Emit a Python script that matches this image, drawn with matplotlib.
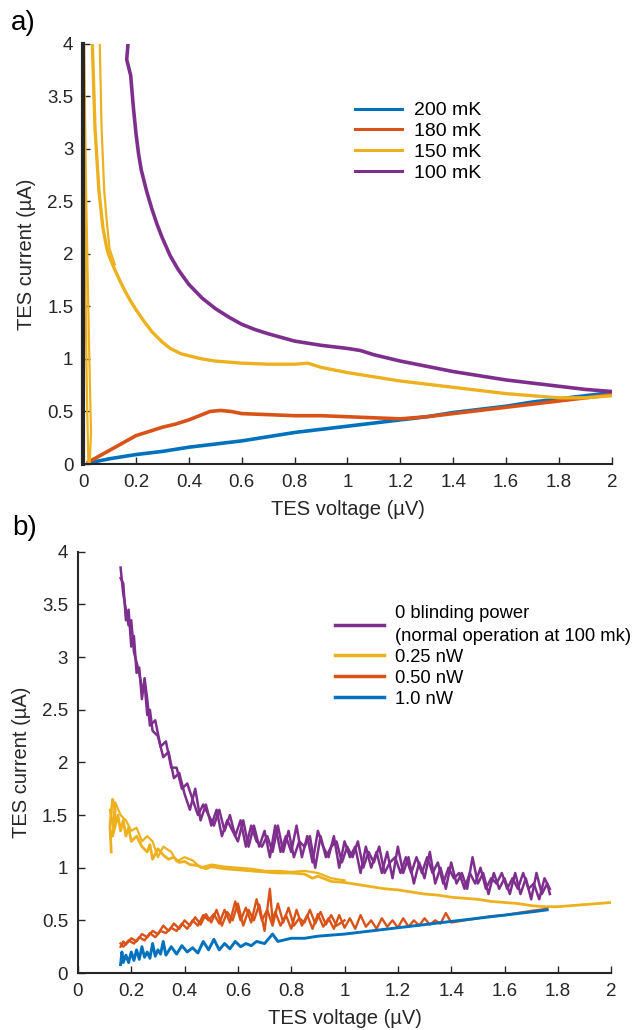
import numpy as np
import matplotlib.pyplot as plt

# MATLAB default colours
BLUE, ORANGE, YELLOW, PURPLE = "#0072BD", "#D95319", "#EDB120", "#7E2F8E"

# ---- panel a: IV curves at several bath temperatures (V in uV, I in uA)
a_200mK = [(0.02, 0.01), (0.1, 0.05), (0.2, 0.09), (0.3, 0.12), (0.4, 0.16), (0.5, 0.19),
           (0.6, 0.22), (0.7, 0.26), (0.8, 0.30), (0.9, 0.33), (1.0, 0.36), (1.1, 0.39),
           (1.2, 0.42), (1.3, 0.45), (1.4, 0.49), (1.5, 0.52), (1.6, 0.55), (1.7, 0.59),
           (1.8, 0.62), (1.9, 0.65), (2.0, 0.68)]
a_180mK = [(0.02, 0.02), (0.05, 0.06), (0.1, 0.13), (0.15, 0.2), (0.2, 0.27), (0.25, 0.31),
           (0.3, 0.35), (0.35, 0.38), (0.4, 0.42), (0.45, 0.47), (0.48, 0.5), (0.52, 0.51),
           (0.56, 0.5), (0.6, 0.48), (0.7, 0.47), (0.8, 0.46), (0.9, 0.46), (1.0, 0.45),
           (1.1, 0.44), (1.2, 0.43), (1.3, 0.45), (1.4, 0.48), (1.5, 0.51), (1.6, 0.54),
           (1.7, 0.57), (1.8, 0.60), (1.9, 0.63), (2.0, 0.66)]
a_150mK = [(0.035, 4.0), (0.045, 3.2), (0.06, 2.6), (0.075, 2.25), (0.09, 2.05), (0.1, 1.97),
           (0.12, 1.85), (0.14, 1.74), (0.16, 1.64), (0.18, 1.55), (0.2, 1.47), (0.23, 1.36),
           (0.26, 1.26), (0.3, 1.16), (0.33, 1.1), (0.37, 1.05), (0.4, 1.03), (0.45, 1.0),
           (0.5, 0.98), (0.6, 0.96), (0.7, 0.95), (0.8, 0.95), (0.85, 0.96), (0.9, 0.92),
           (1.0, 0.87), (1.1, 0.83), (1.2, 0.79), (1.3, 0.76), (1.4, 0.73), (1.5, 0.70),
           (1.6, 0.67), (1.7, 0.65), (1.8, 0.63), (1.9, 0.63), (2.0, 0.65)]
a_150mK_sweep2 = [(0.063, 4.0), (0.07, 3.2), (0.08, 2.6), (0.09, 2.3), (0.1, 2.05), (0.12, 1.9)]
a_150mK_sc = [(0.002, 4.0), (0.004, 3.0), (0.006, 2.4), (0.01, 1.5), (0.015, 0.6), (0.02, 0.0),
              (0.025, 0.0), (0.03, 0.3), (0.022, 1.2), (0.012, 2.5), (0.006, 3.6), (0.004, 4.0)]
a_100mK = [(0.17, 4.0), (0.165, 3.85), (0.18, 3.7), (0.19, 3.4), (0.2, 3.15), (0.21, 2.95),
           (0.22, 2.8), (0.24, 2.6), (0.26, 2.43), (0.28, 2.28), (0.3, 2.15), (0.33, 1.98),
           (0.36, 1.85), (0.4, 1.71), (0.45, 1.58), (0.5, 1.48), (0.55, 1.4), (0.6, 1.33),
           (0.65, 1.28), (0.7, 1.24), (0.8, 1.17), (0.9, 1.13), (1.0, 1.1), (1.05, 1.08),
           (1.1, 1.04), (1.2, 0.98), (1.3, 0.93), (1.4, 0.88), (1.5, 0.84), (1.6, 0.80),
           (1.7, 0.77), (1.8, 0.74), (1.9, 0.71), (2.0, 0.69)]

# ---- panel b: IV curves under blinding power
b_0nW = [(0.16, 3.85), (0.17, 3.6), (0.18, 3.45), (0.19, 3.3), (0.20, 3.35), (0.21, 3.05),
         (0.22, 2.95), (0.23, 2.85), (0.24, 2.7), (0.25, 2.75), (0.26, 2.45), (0.27, 2.5),
         (0.28, 2.3), (0.30, 2.25), (0.32, 2.05), (0.34, 2.1), (0.36, 1.85), (0.38, 1.9),
         (0.40, 1.7), (0.42, 1.55), (0.44, 1.75), (0.46, 1.45), (0.48, 1.6), (0.50, 1.4),
         (0.52, 1.55), (0.54, 1.3), (0.56, 1.45), (0.58, 1.35), (0.60, 1.25), (0.62, 1.45),
         (0.64, 1.2), (0.66, 1.4), (0.68, 1.2), (0.70, 1.35), (0.72, 1.1), (0.74, 1.4),
         (0.76, 1.15), (0.78, 1.3), (0.80, 1.15), (0.82, 1.4), (0.84, 1.1), (0.86, 1.3),
         (0.88, 1.05), (0.90, 1.35), (0.92, 1.2), (0.94, 1.1), (0.96, 1.3), (0.98, 1.0),
         (1.00, 1.25), (1.02, 1.1), (1.04, 1.2), (1.06, 0.95), (1.08, 1.2), (1.10, 1.0),
         (1.12, 1.15), (1.14, 0.95), (1.16, 1.15), (1.18, 0.9), (1.20, 1.2), (1.22, 0.95),
         (1.24, 1.1), (1.26, 0.85), (1.28, 1.05), (1.30, 0.9), (1.32, 1.15), (1.34, 0.85),
         (1.36, 1.0), (1.38, 0.8), (1.40, 1.05), (1.42, 0.85), (1.44, 0.95), (1.46, 0.8),
         (1.48, 1.1), (1.50, 0.85), (1.52, 0.95), (1.54, 0.75), (1.56, 0.95), (1.58, 0.8),
         (1.60, 0.9), (1.62, 0.75), (1.64, 0.95), (1.66, 0.75), (1.68, 0.9), (1.70, 0.7),
         (1.72, 0.95), (1.74, 0.75), (1.76, 0.85), (1.77, 0.75)]
b_0nW_back = [(1.77, 0.8), (1.75, 0.9), (1.73, 0.7), (1.71, 0.85), (1.69, 0.8), (1.67, 0.95),
              (1.65, 0.8), (1.63, 0.9), (1.61, 0.8), (1.59, 0.95), (1.57, 0.85), (1.55, 0.9),
              (1.53, 0.8), (1.51, 1.0), (1.49, 0.85), (1.47, 0.95), (1.45, 0.8), (1.43, 0.95),
              (1.41, 0.9), (1.39, 1.0), (1.37, 0.85), (1.35, 1.05), (1.33, 0.95), (1.31, 1.1),
              (1.29, 0.95), (1.27, 1.1), (1.25, 0.95), (1.23, 1.1), (1.21, 0.95), (1.19, 1.1),
              (1.17, 1.05), (1.15, 0.95), (1.13, 1.2), (1.11, 1.05), (1.09, 1.15), (1.07, 1.0),
              (1.05, 1.25), (1.03, 1.1), (1.01, 1.2), (0.99, 1.05), (0.97, 1.25), (0.95, 1.2),
              (0.93, 1.1), (0.91, 1.3), (0.89, 1.0), (0.87, 1.3), (0.85, 1.2), (0.83, 1.25),
              (0.81, 1.1), (0.79, 1.35), (0.77, 1.15), (0.75, 1.4), (0.73, 1.15), (0.71, 1.3),
              (0.69, 1.2), (0.67, 1.25), (0.65, 1.4), (0.63, 1.2), (0.61, 1.45), (0.59, 1.3),
              (0.57, 1.5), (0.55, 1.35), (0.53, 1.55), (0.51, 1.4), (0.49, 1.5), (0.47, 1.6),
              (0.45, 1.5), (0.43, 1.65), (0.41, 1.8), (0.39, 1.75), (0.37, 1.95), (0.35, 1.95),
              (0.33, 2.2), (0.31, 2.15), (0.29, 2.4), (0.27, 2.35), (0.26, 2.6), (0.25, 2.8),
              (0.24, 2.6), (0.23, 2.9), (0.22, 2.85), (0.21, 3.2), (0.20, 3.1), (0.19, 3.45),
              (0.18, 3.35), (0.17, 3.7), (0.16, 3.75)]
b_025nW = [(0.125, 1.15), (0.12, 1.4), (0.13, 1.65), (0.14, 1.55), (0.13, 1.3), (0.15, 1.5),
           (0.16, 1.35), (0.17, 1.45), (0.18, 1.3), (0.19, 1.38), (0.2, 1.25), (0.22, 1.3),
           (0.24, 1.2), (0.26, 1.15), (0.27, 1.22), (0.28, 1.08), (0.3, 1.18), (0.32, 1.12),
           (0.34, 1.08), (0.36, 1.1), (0.38, 1.05), (0.4, 1.06), (0.42, 1.03), (0.45, 1.02),
           (0.48, 0.99), (0.5, 1.01), (0.55, 0.99), (0.6, 0.98), (0.65, 0.97), (0.7, 0.96),
           (0.75, 0.95), (0.8, 0.95), (0.85, 0.94), (0.88, 0.9), (0.9, 0.92), (0.95, 0.87),
           (1.0, 0.86), (1.05, 0.84), (1.1, 0.82), (1.15, 0.8), (1.2, 0.79), (1.25, 0.77),
           (1.3, 0.75), (1.35, 0.74), (1.4, 0.72), (1.45, 0.71), (1.5, 0.70), (1.55, 0.68),
           (1.6, 0.67), (1.65, 0.66), (1.7, 0.64), (1.75, 0.63), (1.8, 0.63), (1.85, 0.64),
           (1.9, 0.65), (1.95, 0.66), (2.0, 0.67)]
b_025nW_back = [(1.0, 0.88), (0.95, 0.9), (0.9, 0.95), (0.85, 0.97), (0.8, 0.96), (0.75, 0.97),
                (0.7, 0.97), (0.65, 0.99), (0.6, 1.0), (0.55, 1.01), (0.5, 1.03), (0.46, 1.0),
                (0.43, 1.07), (0.4, 1.1), (0.37, 1.06), (0.35, 1.15), (0.32, 1.2), (0.3, 1.1),
                (0.28, 1.25), (0.26, 1.3), (0.24, 1.25), (0.22, 1.38), (0.2, 1.35), (0.18, 1.45),
                (0.16, 1.5), (0.14, 1.62), (0.13, 1.4), (0.12, 1.55)]
b_050nW = [(0.16, 0.25), (0.17, 0.3), (0.18, 0.27), (0.2, 0.33), (0.22, 0.3), (0.24, 0.37),
           (0.26, 0.34), (0.28, 0.4), (0.3, 0.37), (0.32, 0.45), (0.34, 0.4), (0.36, 0.47),
           (0.38, 0.42), (0.4, 0.5), (0.42, 0.45), (0.44, 0.53), (0.46, 0.46), (0.48, 0.56),
           (0.5, 0.48), (0.52, 0.6), (0.54, 0.45), (0.56, 0.58), (0.58, 0.5), (0.6, 0.66),
           (0.62, 0.45), (0.64, 0.6), (0.66, 0.5), (0.68, 0.65), (0.7, 0.4), (0.72, 0.8),
           (0.73, 0.5), (0.74, 0.58), (0.76, 0.45), (0.78, 0.55), (0.8, 0.42), (0.82, 0.6),
           (0.84, 0.45), (0.86, 0.55), (0.88, 0.42), (0.9, 0.56), (0.92, 0.44), (0.94, 0.52),
           (0.96, 0.42), (0.98, 0.55), (1.0, 0.43), (1.02, 0.52), (1.04, 0.42), (1.06, 0.55),
           (1.08, 0.44), (1.1, 0.5), (1.12, 0.42), (1.14, 0.52), (1.16, 0.44), (1.18, 0.5),
           (1.2, 0.43), (1.22, 0.52), (1.24, 0.44), (1.26, 0.5), (1.28, 0.45), (1.3, 0.52),
           (1.32, 0.46), (1.34, 0.5), (1.36, 0.47), (1.38, 0.57), (1.4, 0.48), (1.45, 0.5),
           (1.5, 0.52), (1.55, 0.54), (1.6, 0.55), (1.65, 0.57), (1.7, 0.59), (1.76, 0.61)]
b_050nW_back = [(1.0, 0.5), (0.97, 0.45), (0.95, 0.55), (0.93, 0.46), (0.91, 0.58), (0.89, 0.47),
                (0.87, 0.6), (0.85, 0.48), (0.83, 0.52), (0.81, 0.45), (0.79, 0.62), (0.77, 0.48),
                (0.75, 0.66), (0.73, 0.45), (0.71, 0.6), (0.69, 0.5), (0.67, 0.7), (0.65, 0.48),
                (0.63, 0.62), (0.61, 0.5), (0.59, 0.68), (0.57, 0.48), (0.55, 0.6), (0.53, 0.47),
                (0.51, 0.56), (0.49, 0.5), (0.47, 0.55), (0.45, 0.45), (0.43, 0.5), (0.41, 0.42),
                (0.39, 0.47), (0.37, 0.4), (0.35, 0.43), (0.33, 0.38), (0.31, 0.4), (0.29, 0.34),
                (0.27, 0.38), (0.25, 0.31), (0.23, 0.34), (0.21, 0.28), (0.19, 0.31), (0.17, 0.25),
                (0.16, 0.28)]
b_1nW = [(0.16, 0.08), (0.165, 0.2), (0.17, 0.1), (0.18, 0.17), (0.19, 0.1), (0.2, 0.2),
         (0.21, 0.12), (0.22, 0.22), (0.23, 0.13), (0.24, 0.25), (0.25, 0.15), (0.26, 0.2),
         (0.27, 0.14), (0.28, 0.28), (0.29, 0.16), (0.3, 0.22), (0.31, 0.18), (0.32, 0.3),
         (0.33, 0.17), (0.35, 0.25), (0.37, 0.18), (0.39, 0.26), (0.41, 0.2), (0.43, 0.24),
         (0.45, 0.19), (0.47, 0.3), (0.49, 0.22), (0.51, 0.32), (0.53, 0.22), (0.55, 0.28),
         (0.57, 0.23), (0.59, 0.3), (0.61, 0.25), (0.63, 0.28), (0.65, 0.26), (0.67, 0.3),
         (0.7, 0.28), (0.73, 0.37), (0.75, 0.3), (0.8, 0.33), (0.85, 0.33), (0.9, 0.35),
         (0.95, 0.36), (1.0, 0.37), (1.1, 0.4), (1.2, 0.43), (1.3, 0.46), (1.4, 0.49),
         (1.5, 0.52), (1.6, 0.55), (1.7, 0.58), (1.76, 0.6)]

a_labels = ["200 mK", "180 mK", "150 mK", "100 mK"]
b_labels = ["0 blinding power\n(normal operation at 100 mk)", "0.25 nW", "0.50 nW", "1.0 nW"]
x_ticks = [0, 0.2, 0.4, 0.6, 0.8, 1, 1.2, 1.4, 1.6, 1.8, 2]
x_ticklabels = ["0", "0.2", "0.4", "0.6", "0.8", "1", "1.2", "1.4", "1.6", "1.8", "2"]
y_ticks = [0, 0.5, 1, 1.5, 2, 2.5, 3, 3.5, 4]
y_ticklabels = ["0", "0.5", "1", "1.5", "2", "2.5", "3", "3.5", "4"]


def xy(pairs):
    arr = np.array(pairs)
    return arr[:, 0], arr[:, 1]


def style_axes(ax, family, lw_left):
    ax.set_xlim(0, 2)
    ax.set_ylim(0, 4)
    ax.set_xticks(x_ticks)
    ax.set_xticklabels(x_ticklabels, family=family)
    ax.set_yticks(y_ticks)
    ax.set_yticklabels(y_ticklabels, family=family)
    ax.tick_params(direction="in", length=5, width=1, labelsize=13.5, colors="#262626", pad=7)
    for s in ["top", "right"]:
        ax.spines[s].set_visible(False)
    ax.spines["left"].set_linewidth(lw_left)
    ax.spines["bottom"].set_linewidth(1.5)
    for s in ["left", "bottom"]:
        ax.spines[s].set_color("#262626")
    ax.set_xlabel("TES voltage (µV)", fontsize=14.5, family=family, color="#262626", labelpad=7)
    ax.set_ylabel("TES current (µA)", fontsize=14.5, family=family, color="#262626", labelpad=8)


fig = plt.figure(figsize=(6.44, 10.30), dpi=100)
fam = ["Liberation Sans", "DejaVu Sans"]

# ---- panel a
ax1 = fig.add_axes([0.129, 0.5495, 0.821, 0.408])
ax1.plot(*xy(a_200mK), color=BLUE, lw=2.6)
ax1.plot(*xy(a_180mK), color=ORANGE, lw=2.6)
ax1.plot(*xy(a_150mK), color=YELLOW, lw=2.4)
ax1.plot(*xy(a_150mK_sweep2), color=YELLOW, lw=1.6)
ax1.plot(*xy(a_150mK_sc), color=YELLOW, lw=1.6)
ax1.plot(*xy(a_100mK), color=PURPLE, lw=2.6)
style_axes(ax1, fam, 3.0)
la = [plt.Line2D([], [], color=c, lw=2.2) for c in [BLUE, ORANGE, YELLOW, PURPLE]]
ax1.legend(la, a_labels, loc="upper left", bbox_to_anchor=(0.514, 0.862),
           frameon=False, prop={"family": fam, "size": 14}, handlelength=2.45,
           handletextpad=0.6, labelspacing=0.17, borderaxespad=0, borderpad=0)
fig.text(0.017, 0.978, "a)", fontsize=20, family=fam, va="center", ha="left")

# ---- panel b
ax2 = fig.add_axes([0.121, 0.0553, 0.828, 0.409])
ax2.plot(*xy(b_0nW), color=PURPLE, lw=1.8)
ax2.plot(*xy(b_0nW_back), color=PURPLE, lw=1.8)
ax2.plot(*xy(b_025nW), color=YELLOW, lw=2.0)
ax2.plot(*xy(b_025nW_back), color=YELLOW, lw=1.6)
ax2.plot(*xy(b_050nW), color=ORANGE, lw=1.7)
ax2.plot(*xy(b_050nW_back), color=ORANGE, lw=1.7)
ax2.plot(*xy(b_1nW), color=BLUE, lw=2.1)
style_axes(ax2, fam, 1.5)
hb = [plt.Line2D([], [], color=c, lw=2.5) for c in [PURPLE, YELLOW, ORANGE, BLUE]]
leg = ax2.legend(hb, b_labels, loc="upper left", bbox_to_anchor=(0.482, 0.874),
                 frameon=False, prop={"family": fam, "size": 13.2}, handlelength=2.7,
                 handletextpad=0.55, labelspacing=0.22, borderaxespad=0, borderpad=0)
for t in leg.get_texts():
    t.set_linespacing(1.45)
fig.text(0.019, 0.487, "b)", fontsize=20, family=fam, va="center", ha="left")

fig.savefig("out.png", dpi=100)
